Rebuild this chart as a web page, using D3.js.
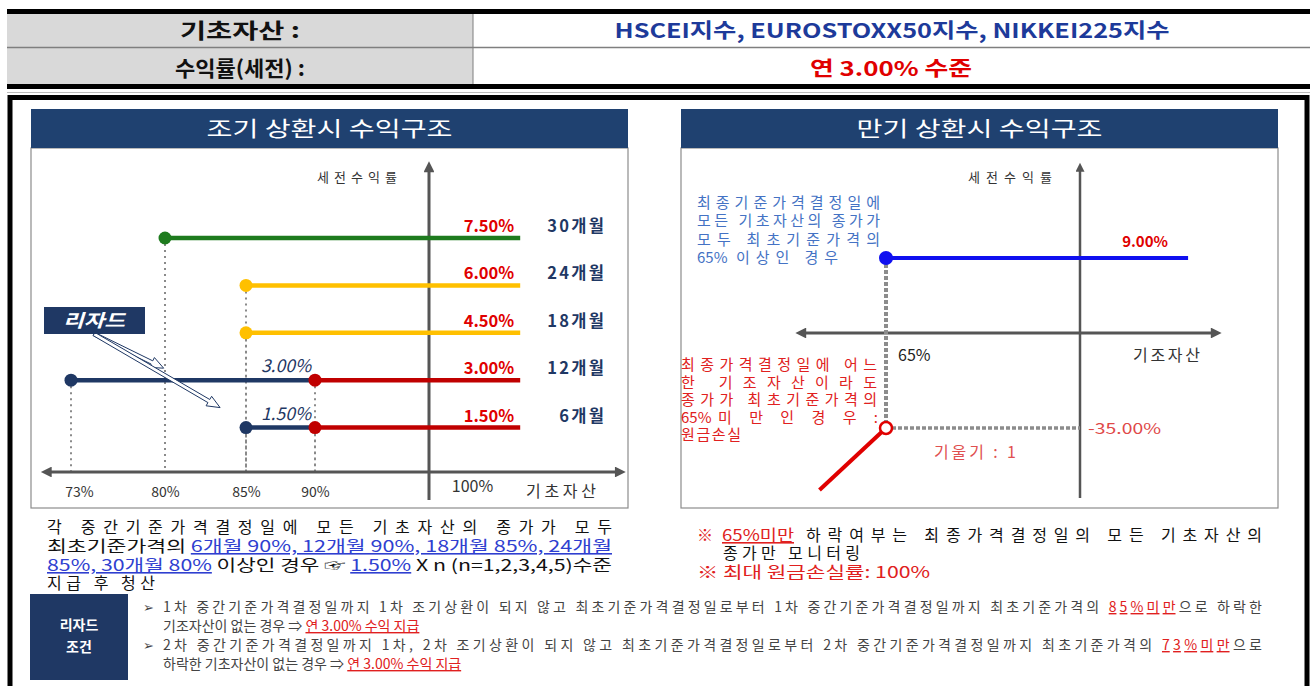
<!DOCTYPE html>
<html>
<head>
<meta charset="utf-8">
<script src="https://cdn.jsdelivr.net/npm/d3@7"></script>
<style>
  body { margin: 0; background: #fff; }
  text { font-family: "Noto Sans CJK KR", "Noto Sans", sans-serif; }
</style>
</head>
<body>
<svg id="chart"></svg>
<script>
// ---- data ----
const headerLabels = ["기초자산 :", "수익률(세전) :"];
const headerValues = ["HSCEI지수, EUROSTOXX50지수, NIKKEI225지수", "연 3.00% 수준"];

const earlyMonths   = ["30개월", "24개월", "18개월", "12개월", "6개월"];
const earlyRates    = [7.5, 6.0, 4.5, 3.0, 1.5];
const earlyBarriers = [80, 85, 85, 90, 90];
const lizardStarts  = [null, null, null, 73, 85];
const earlyTicks    = [73, 80, 85, 90, 100];
const lineEnd = 108;

const maturityRate = 9.0;
const maturityBarrier = 65;
const maturityEnd = 119.5;
const lossRate = -35.0;
const lossLine = [[65, -35], [53, -47]];

const W = 1316, H = 686;
const navy = "#1f3864";
const earlyColors = ["#1e7b1e", "#ffc000", "#ffc000", "#c00000", "#c00000"];
const fGulim = "'DejaVu Sans', 'Noto Sans CJK KR', sans-serif";
const fMalgun = "'Noto Sans CJK KR', sans-serif";

const svg = d3.select("#chart").attr("width", W).attr("height", H);
svg.append("rect").attr("width", W).attr("height", H).attr("fill", "#fff");

const defs = svg.append("defs");
defs.append("marker")
    .attr("id", "arrow")
    .attr("viewBox", "0 0 10 10")
    .attr("refX", 2).attr("refY", 5)
    .attr("markerWidth", 4).attr("markerHeight", 3.6)
    .attr("orient", "auto-start-reverse")
  .append("path")
    .attr("d", "M0,0 L10,5 L0,10 z")
    .attr("fill", "#555");

function txt(g, x, y, s, o = {}) {
    const t = g.append("text")
        .attr("x", x).attr("y", y)
        .attr("font-size", o.size || 14)
        .attr("font-family", o.font || fMalgun)
        .attr("fill", o.fill || "#222")
        .attr("text-anchor", o.anchor || "start")
        .attr("font-weight", o.weight || "normal")
        .attr("font-style", o.style || "normal")
        .text(s);
    if (o.len) t.attr("textLength", o.len).attr("lengthAdjust", o.adj || "spacing");
    return t;
}
// widen a text by px between glyphs
function spread(t, px) {
    const n = t.text().length;
    const w = t.node().getComputedTextLength();
    t.attr("textLength", w + px * (n - 1)).attr("lengthAdjust", "spacing");
    return t;
}

// ---- header table ----
const head = svg.append("g");
head.append("rect").attr("x", 7).attr("y", 14).attr("width", 466).attr("height", 70).attr("fill", "#d9d9d9");
head.append("rect").attr("x", 7).attr("y", 9).attr("width", 1303).attr("height", 5).attr("fill", "#000");
head.append("rect").attr("x", 7).attr("y", 84).attr("width", 1303).attr("height", 5).attr("fill", "#000");
head.append("line").attr("x1", 7).attr("x2", 1310).attr("y1", 47.5).attr("y2", 47.5).attr("stroke", "#7f7f7f").attr("stroke-width", 1.5);
head.append("line").attr("x1", 473).attr("x2", 473).attr("y1", 14).attr("y2", 84).attr("stroke", "#7f7f7f").attr("stroke-width", 1);
head.append("line").attr("x1", 7).attr("x2", 1310).attr("y1", 92.5).attr("y2", 92.5).attr("stroke", "#bbb").attr("stroke-width", 1);
txt(head, 240, 38, headerLabels[0], {size: 21, weight: "bold", anchor: "middle", fill: "#111", len: 120, adj: "spacingAndGlyphs"});
txt(head, 240, 76, headerLabels[1], {size: 21, weight: "bold", anchor: "middle", fill: "#111", len: 130, adj: "spacingAndGlyphs"});
txt(head, 892, 38, headerValues[0], {size: 20, weight: "bold", anchor: "middle", fill: "#1d3a9a", font: fGulim, len: 555, adj: "spacingAndGlyphs"});
txt(head, 891, 76, headerValues[1], {size: 20, weight: "bold", anchor: "middle", fill: "#e00000", font: fGulim, len: 162, adj: "spacingAndGlyphs"});

// ---- outer frame ----
svg.append("rect").attr("x", 10).attr("y", 97.5).attr("width", 1297).attr("height", 640)
    .attr("fill", "none").attr("stroke", "#000").attr("stroke-width", 5);

// ---- panels ----
function panel(x, w, title) {
    const g = svg.append("g");
    g.append("rect").attr("x", x).attr("y", 148).attr("width", w).attr("height", 360)
        .attr("fill", "#fff").attr("stroke", "#8c8c8c").attr("stroke-width", 1.2);
    g.append("rect").attr("x", x).attr("y", 109).attr("width", w).attr("height", 39).attr("fill", "#1f4170");
    txt(g, x + w / 2, 136, title, {size: 21, fill: "#fff", anchor: "middle", len: 246, adj: "spacingAndGlyphs"});
    return g;
}
const left = panel(31, 597, "조기 상환시 수익구조");
const right = panel(681, 597, "만기 상환시 수익구조");

// ---- early redemption chart ----
const xL = d3.scaleLinear().domain([73, 80, 85, 90, 100, 110]).range([71, 165, 246, 315, 429, 543]);
const yL = d3.scaleLinear().domain([0, 7.5]).range([475, 238]);
const axisYL = yL(0) - 3;

// dotted guides
const guides = [];
earlyRates.forEach((r, i) => {
    guides.push({x: earlyBarriers[i], y: r});
    if (lizardStarts[i] !== null) guides.push({x: lizardStarts[i], y: r});
});
left.selectAll(".guide").data(guides).join("line")
    .attr("x1", d => xL(d.x)).attr("x2", d => xL(d.x))
    .attr("y1", d => yL(d.y)).attr("y2", axisYL)
    .attr("stroke", "#8a8a8a").attr("stroke-width", 2).attr("stroke-dasharray", "2,4");

// axes
left.append("line").attr("x1", xL(71.4)).attr("x2", xL(116.5)).attr("y1", axisYL).attr("y2", axisYL)
    .attr("stroke", "#555").attr("stroke-width", 3)
    .attr("marker-start", "url(#arrow)").attr("marker-end", "url(#arrow)");
left.append("line").attr("x1", xL(100)).attr("x2", xL(100)).attr("y1", 500).attr("y2", 170)
    .attr("stroke", "#555").attr("stroke-width", 3).attr("marker-end", "url(#arrow)");
txt(left, 357, 182, "세전수익률", {size: 13, anchor: "middle", fill: "#333", len: 80});

const xAxisL = left.append("g").attr("transform", `translate(0,${axisYL})`)
    .call(d3.axisBottom(xL).tickValues(earlyTicks).tickFormat(d => d + "%").tickSize(0).tickPadding(15));
xAxisL.select(".domain").remove();
xAxisL.selectAll("text").attr("font-size", 14).attr("fill", "#333").attr("font-family", fGulim);
xAxisL.selectAll(".tick").filter(d => d === 100).select("text")
    .attr("font-size", 16).attr("dx", 43).attr("dy", "0.3em");
xAxisL.selectAll(".tick").filter(d => d === 73).select("text").attr("dx", 8);
txt(left, 526, 497, "기초자산", {size: 16, fill: "#333", len: 70});

// lizard segments (navy)
const liz = earlyRates.map((r, i) => ({r, s: lizardStarts[i], e: earlyBarriers[i]})).filter(d => d.s !== null);
left.selectAll(".liz").data(liz).join("line")
    .attr("x1", d => xL(d.s)).attr("x2", d => xL(d.e))
    .attr("y1", d => yL(d.r)).attr("y2", d => yL(d.r))
    .attr("stroke", navy).attr("stroke-width", 4.5);
left.selectAll(".lizdot").data(liz).join("circle")
    .attr("cx", d => xL(d.s)).attr("cy", d => yL(d.r)).attr("r", 6.5).attr("fill", navy);

// payoff lines
left.selectAll(".pay").data(earlyRates).join("line")
    .attr("x1", (d, i) => xL(earlyBarriers[i])).attr("x2", xL(lineEnd))
    .attr("y1", d => yL(d)).attr("y2", d => yL(d))
    .attr("stroke", (d, i) => earlyColors[i]).attr("stroke-width", 4.5);
left.selectAll(".paydot").data(earlyRates).join("circle")
    .attr("cx", (d, i) => xL(earlyBarriers[i])).attr("cy", d => yL(d))
    .attr("r", 6.5).attr("fill", (d, i) => earlyColors[i]);

// labels
earlyRates.forEach((r, i) => {
    txt(left, xL(lineEnd) - 6, yL(r) - 6, r.toFixed(2) + "%", {size: 16.5, weight: "bold", anchor: "end", fill: "#e00000", font: fGulim});
    spread(txt(left, 604, yL(r) - 6, earlyMonths[i], {size: 16.5, weight: "bold", anchor: "end", fill: navy, font: fGulim}), 2.3);
});
liz.forEach(d => {
    txt(left, xL(d.e) - 4, yL(d.r) - 8, d.r.toFixed(2) + "%", {size: 17.5, style: "italic", anchor: "end", fill: navy, font: fGulim});
});

// 리자드 callout
function hollowArrow(g, x1, y1, x2, y2) {
    const dx = x2 - x1, dy = y2 - y1, len = Math.hypot(dx, dy);
    const ux = dx / len, uy = dy / len, px = -uy, py = ux;
    const sw = 1.8, hw = 5.5, hl = 13;
    const bx = x2 - ux * hl, by = y2 - uy * hl;
    const pts = [[x1 + px * sw, y1 + py * sw], [bx + px * sw, by + py * sw], [bx + px * hw, by + py * hw], [x2, y2],
                 [bx - px * hw, by - py * hw], [bx - px * sw, by - py * sw], [x1 - px * sw, y1 - py * sw]];
    g.append("polygon").attr("points", pts.map(p => p.join(",")).join(" "))
        .attr("fill", "#fff").attr("stroke", navy).attr("stroke-width", 1);
}
hollowArrow(left, 94, 334, xL(79.9), yL(3) - 12);
hollowArrow(left, 94, 334, xL(83.4), yL(1.5) - 20);
left.append("rect").attr("x", 44).attr("y", 307).attr("width", 101).attr("height", 27).attr("fill", navy);
txt(left, 94, 327, "리자드", {size: 18, weight: "bold", style: "italic", anchor: "middle", fill: "#fff", len: 62, adj: "spacingAndGlyphs"});

// ---- maturity chart ----
const xR = d3.scaleLinear().domain([65, 100]).range([886, 1080]);
const yR = d3.scaleLinear().domain([-47, -35, 0, 9]).range([490, 428, 333, 258]);

right.append("line").attr("x1", xR(100)).attr("x2", xR(100)).attr("y1", 498).attr("y2", 170)
    .attr("stroke", "#555").attr("stroke-width", 2.5).attr("marker-end", "url(#arrow)");
right.append("line").attr("x1", 804).attr("x2", 1213).attr("y1", yR(0)).attr("y2", yR(0))
    .attr("stroke", "#555").attr("stroke-width", 3)
    .attr("marker-start", "url(#arrow)").attr("marker-end", "url(#arrow)");
txt(right, 1010, 182, "세전수익률", {size: 13, anchor: "middle", fill: "#333", len: 84});
txt(right, xR(maturityBarrier) + 12, 361, maturityBarrier + "%", {size: 16, fill: "#222", font: fGulim});
txt(right, 1133, 361, "기조자산", {size: 16, fill: "#333", len: 67});

right.append("line").attr("x1", xR(maturityBarrier)).attr("x2", xR(maturityBarrier))
    .attr("y1", yR(maturityRate)).attr("y2", yR(lossRate))
    .attr("stroke", "#8c8c8c").attr("stroke-width", 4).attr("stroke-dasharray", "4,2");
right.append("line").attr("x1", xR(maturityBarrier)).attr("x2", xR(100))
    .attr("y1", yR(lossRate)).attr("y2", yR(lossRate))
    .attr("stroke", "#8c8c8c").attr("stroke-width", 3.5).attr("stroke-dasharray", "4,2");

right.append("line").attr("x1", xR(maturityBarrier)).attr("x2", xR(maturityEnd))
    .attr("y1", yR(maturityRate)).attr("y2", yR(maturityRate))
    .attr("stroke", "#1010f0").attr("stroke-width", 4);
right.append("circle").attr("cx", xR(maturityBarrier)).attr("cy", yR(maturityRate)).attr("r", 7).attr("fill", "#1010f0");
txt(right, 1168, yR(maturityRate) - 11, maturityRate.toFixed(2) + "%", {size: 15, weight: "bold", anchor: "end", fill: "#e00000", font: fGulim});

right.append("path")
    .attr("d", d3.line().x(d => xR(d[0])).y(d => yR(d[1]))(lossLine))
    .attr("stroke", "#e00000").attr("stroke-width", 4).attr("fill", "none");
right.append("circle").attr("cx", xR(maturityBarrier)).attr("cy", yR(lossRate)).attr("r", 6)
    .attr("fill", "#fff").attr("stroke", "#e00000").attr("stroke-width", 2.5);
txt(right, xR(100) + 8, yR(lossRate) + 6, lossRate.toFixed(2) + "%", {size: 15, fill: "#e04848", font: fGulim, len: 73, adj: "spacingAndGlyphs"});
txt(right, 934, 458, "기울기 : 1", {size: 16, fill: "#e05050", len: 82});

const blueNote = ["최종기준가격결정일에", "모든 기초자산의 종가가", "모두 최초기준가격의"];
blueNote.forEach((s, i) => txt(right, 697, 208 + i * 18.3, s, {size: 15, fill: "#4472c4", font: fGulim, len: 183}));
txt(right, 697, 263, "65%", {size: 15, fill: "#4472c4", font: fGulim});
txt(right, 736, 263, "이상인 경우", {size: 15, fill: "#4472c4", font: fGulim, len: 102});

const redNote = ["최종가격결정일에 어느", "한 기조자산이라도", "종가가 최초기준가격의"];
redNote.forEach((s, i) => txt(right, 681, 370 + i * 17.5, s, {size: 15, fill: "#e02020", font: fGulim, len: 196}));
txt(right, 681, 422.5, "65%", {size: 15, fill: "#e02020", font: fGulim});
txt(right, 718, 422.5, "미 만 인   경 우   :", {size: 15, fill: "#e02020", font: fGulim, len: 160});
txt(right, 681, 440, "원금손실", {size: 15, fill: "#e02020", font: fGulim, len: 60});

// ---- notes below ----
const notes = svg.append("g");
function rich(g, x, y, parts, o) {
    const t = txt(g, x, y, "", o);
    parts.forEach(p => {
        const sp = t.append("tspan").text(p[0]);
        if (p[1]) sp.attr("fill", p[1]);
        if (p[2]) sp.attr("text-decoration", "underline");
    });
    return t;
}
const blueU = "#2f3fd0";
rich(notes, 47, 533, [["각 중간기준가격결정일에 모든 기초자산의 종가가 모두"]], {size: 16, fill: "#111", font: fGulim, len: 565});
rich(notes, 47, 552, [["최초기준가격의 "], ["6개월 90%, 12개월 90%, 18개월 85%, 24개월", blueU, 1]], {size: 16, fill: "#111", font: fGulim, len: 565, adj: "spacingAndGlyphs"});
rich(notes, 47, 571, [["85%, 30개월 80%", blueU, 1], [" 이상인 경우 ☞ "], ["1.50%", blueU, 1], [" X n (n=1,2,3,4,5)수준"]], {size: 16, fill: "#111", font: fGulim, len: 565, adj: "spacingAndGlyphs"});
rich(notes, 47, 589, [["지급 후 청산"]], {size: 16, fill: "#111", font: fGulim, len: 108});

txt(notes, 697, 541, "※", {size: 16, fill: "#e02020", font: fGulim});
rich(notes, 722, 541, [["65%미만", "#e02020", 1]], {size: 16, font: fGulim, len: 72, adj: "spacingAndGlyphs"});
rich(notes, 806, 541, [["하락여부는 최종가격결정일의 모든 기초자산의"]], {size: 16, fill: "#111", font: fGulim, len: 456});
rich(notes, 723, 559, [["종가만 모니터링"]], {size: 16, fill: "#111", font: fGulim, len: 137});
rich(notes, 697, 578, [["※ 최대 원금손실률: 100%"]], {size: 16, fill: "#e02020", font: fGulim, len: 233, adj: "spacingAndGlyphs"});

notes.append("rect").attr("x", 30).attr("y", 594).attr("width", 98).attr("height", 86).attr("fill", navy);
txt(notes, 79, 630, "리자드", {size: 14, weight: "bold", anchor: "middle", fill: "#fff"});
txt(notes, 79, 652, "조건", {size: 14, weight: "bold", anchor: "middle", fill: "#fff"});

const bulletRows = [
    {y: 612, b: true, parts: [["1차 중간기준가격결정일까지 1차 조기상환이 되지 않고 최초기준가격결정일로부터 1차 중간기준가격결정일까지 최초기준가격의 "], ["85%미만", "#e02020", 1], ["으로 하락한"]], len: 1099},
    {y: 631, b: false, parts: [["기조자산이 없는 경우 ⇒ "], ["연 3.00% 수익 지급", "#e02020", 1]]},
    {y: 650, b: true, parts: [["2차 중간기준가격결정일까지 1차, 2차 조기상환이 되지 않고 최초기준가격결정일로부터 2차 중간기준가격결정일까지 최초기준가격의 "], ["73%미만", "#e02020", 1], ["으로"]], len: 1099},
    {y: 669, b: false, parts: [["하락한 기초자산이 없는 경우 ⇒ "], ["연 3.00% 수익 지급", "#e02020", 1]]}
];
bulletRows.forEach(r => {
    if (r.b) txt(notes, 143, r.y, "➢", {size: 13, fill: "#444", font: fGulim});
    rich(notes, 163, r.y, r.parts, {size: 14, fill: "#444", font: fMalgun, len: r.len});
});
</script>
</body>
</html>
